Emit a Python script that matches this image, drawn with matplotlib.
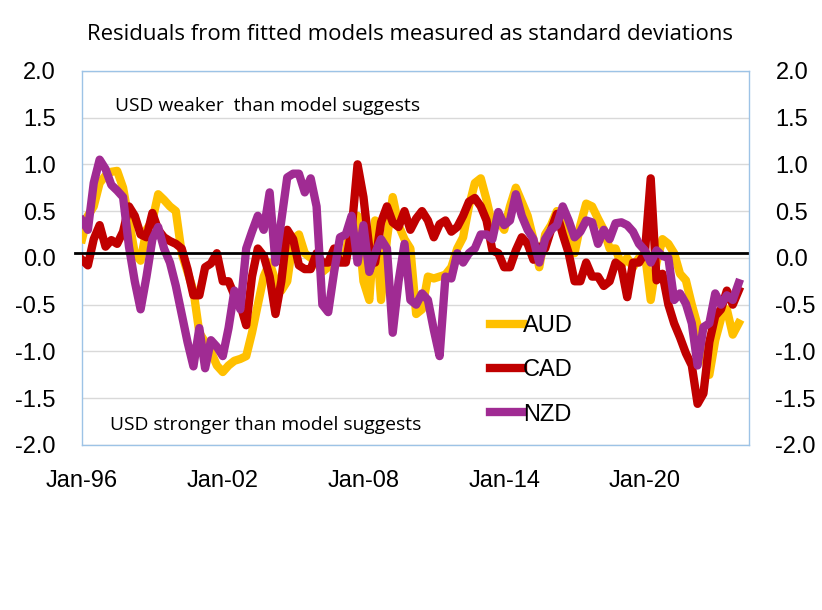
import pandas as pd
import numpy as np
import matplotlib.pyplot as plt
import matplotlib.dates as mdates

## data: quarterly readings, Jan-96 .. Jan-24
dates = pd.date_range('1996-01-01', periods=113, freq='QS')

aud = [0.20, 0.45, 0.55, 0.80, 0.88, 0.92, 0.93, 0.75, 0.40, 0.05,
       -0.03, 0.30, 0.40, 0.68, 0.62, 0.55, 0.50, 0.05, -0.15, -0.35,
       -0.80, -0.90, -1.00, -1.15, -1.22, -1.15, -1.10, -1.08, -1.05, -0.80,
       -0.50, -0.20, -0.05, -0.25, -0.35, -0.25, 0.20, 0.25, 0.05, 0.00,
       -0.05, -0.15, -0.10, -0.05, 0.00, 0.05, 0.40, 0.45, -0.25, -0.45,
       0.40, -0.45, 0.20, 0.65, 0.35, 0.20, 0.10, -0.60, -0.55, -0.20,
       -0.22, -0.20, -0.18, -0.10, 0.10, 0.22, 0.55, 0.80, 0.85, 0.62,
       0.35, 0.40, 0.30, 0.55, 0.75, 0.60, 0.45, 0.20, -0.10, 0.25,
       0.35, 0.50, 0.45, 0.25, 0.05, 0.35, 0.58, 0.55, 0.42, 0.30,
       0.10, 0.10, -0.08, 0.00, -0.10, 0.00, 0.05, -0.45, -0.05, 0.20,
       0.15, 0.05, -0.17, -0.24, -0.50, -0.72, -1.00, -1.25, -0.88, -0.65,
       -0.55, -0.82, -0.70]

cad = [-0.02, -0.08, 0.20, 0.35, 0.12, 0.19, 0.15, 0.28, 0.55, 0.45,
       0.25, 0.22, 0.48, 0.30, 0.22, 0.18, 0.15, 0.10, -0.12, -0.40,
       -0.40, -0.10, -0.06, 0.05, -0.25, -0.25, -0.40, -0.50, -0.72, -0.20,
       0.10, 0.02, -0.20, -0.60, -0.25, 0.30, 0.20, -0.08, -0.12, -0.12,
       0.05, -0.05, -0.05, 0.10, -0.05, -0.05, 0.30, 1.00, 0.65, 0.10,
       -0.05, 0.38, 0.55, 0.38, 0.33, 0.50, 0.30, 0.42, 0.50, 0.40,
       0.22, 0.36, 0.40, 0.28, 0.33, 0.45, 0.60, 0.64, 0.55, 0.40,
       0.08, 0.05, -0.10, -0.10, 0.08, 0.22, 0.15, -0.02, 0.12, 0.10,
       0.30, 0.47, 0.25, 0.05, -0.25, -0.25, -0.05, -0.20, -0.20, -0.30,
       -0.25, -0.05, -0.10, -0.42, -0.05, -0.05, 0.05, 0.85, -0.24, -0.17,
       -0.50, -0.70, -0.85, -1.02, -1.15, -1.56, -1.45, -0.90, -0.62, -0.55,
       -0.35, -0.50, -0.35]

nzd = [0.40, 0.30, 0.80, 1.05, 0.95, 0.78, 0.72, 0.65, 0.12, -0.25,
       -0.55, -0.20, 0.20, 0.33, 0.10, -0.05, -0.30, -0.60, -0.90, -1.16,
       -0.75, -1.18, -0.88, -0.95, -1.05, -0.75, -0.35, -0.55, 0.10, 0.28,
       0.45, 0.30, 0.70, -0.05, 0.40, 0.86, 0.90, 0.90, 0.70, 0.85,
       0.55, -0.50, -0.58, -0.15, 0.22, 0.25, 0.45, -0.05, 0.35, -0.15,
       0.05, 0.20, 0.10, -0.80, -0.25, 0.15, -0.45, -0.50, -0.38, -0.45,
       -0.77, -1.05, -0.20, -0.22, 0.05, -0.05, 0.05, 0.10, 0.25, 0.25,
       0.20, 0.49, 0.35, 0.40, 0.68, 0.45, 0.30, 0.20, -0.05, 0.20,
       0.30, 0.35, 0.55, 0.40, 0.22, 0.28, 0.40, 0.38, 0.15, 0.30,
       0.20, 0.37, 0.38, 0.35, 0.28, 0.15, 0.08, -0.05, 0.08, 0.02,
       0.00, -0.45, -0.38, -0.49, -0.70, -1.15, -0.74, -0.70, -0.38, -0.50,
       -0.40, -0.45, -0.27]

fig = plt.figure(figsize=(8.22, 6.10), dpi=100)
ax = fig.add_axes([0.0998, 0.2705, 0.8114, 0.6135])

lw = 6
ax.plot(dates, aud, color='#FFC000', lw=lw, label='AUD', solid_joinstyle='round', zorder=3)
ax.plot(dates, cad, color='#C00000', lw=lw, label='CAD', solid_joinstyle='round', zorder=4)
ax.plot(dates, nzd, color='#A02B93', lw=lw, label='NZD', solid_joinstyle='round', zorder=5)
ax.axhline(0.05, xmin=-0.011, xmax=0.997, color='black', lw=2, clip_on=False, zorder=6)

ax.set_ylim(-2, 2)
ax.set_yticks(np.arange(-2, 2.01, 0.5))
ax.yaxis.set_major_formatter(plt.FuncFormatter(lambda v, p: f'{v:.1f}'))
ax.set_xlim(pd.Timestamp('1996-01-01'), pd.Timestamp('2024-06-10'))
ax.set_xticks([pd.Timestamp(f'{y}-01-01') for y in range(1996, 2021, 6)])
ax.xaxis.set_major_formatter(mdates.DateFormatter('%b-%y'))
ax.grid(axis='y', color='#D9D9D9', lw=1)
ax.set_axisbelow(True)
for s in ax.spines.values():
    s.set_color('#9DC3E6')
    s.set_linewidth(1)
ax.tick_params(axis='y', labelleft=True, labelright=True, length=0, pad=19,
               labelsize=17)
ax.tick_params(axis='x', length=0, pad=18, labelsize=17)
for t in ax.get_xticklabels() + ax.get_yticklabels():
    t.set_family('Liberation Sans')

fig.text(0.499, 0.943, 'Residuals from fitted models measured as standard deviations',
         ha='center', va='center', fontsize=15.9, family='Open Sans')
ax.text(0.05, 0.905, 'USD weaker  than model suggests', transform=ax.transAxes,
        fontsize=13.9, family='Open Sans', va='center')
ax.text(0.042, 0.053, 'USD stronger than model suggests', transform=ax.transAxes,
        fontsize=13.9, family='Open Sans', va='center')

leg = ax.legend(loc='upper left', bbox_to_anchor=(0.597, 0.373), frameon=False,
                handlelength=1.4, handletextpad=0.0, labelspacing=0.95,
                prop={'family': 'Liberation Sans', 'size': 17}, borderaxespad=0)

plt.savefig('out.png', dpi=100)
